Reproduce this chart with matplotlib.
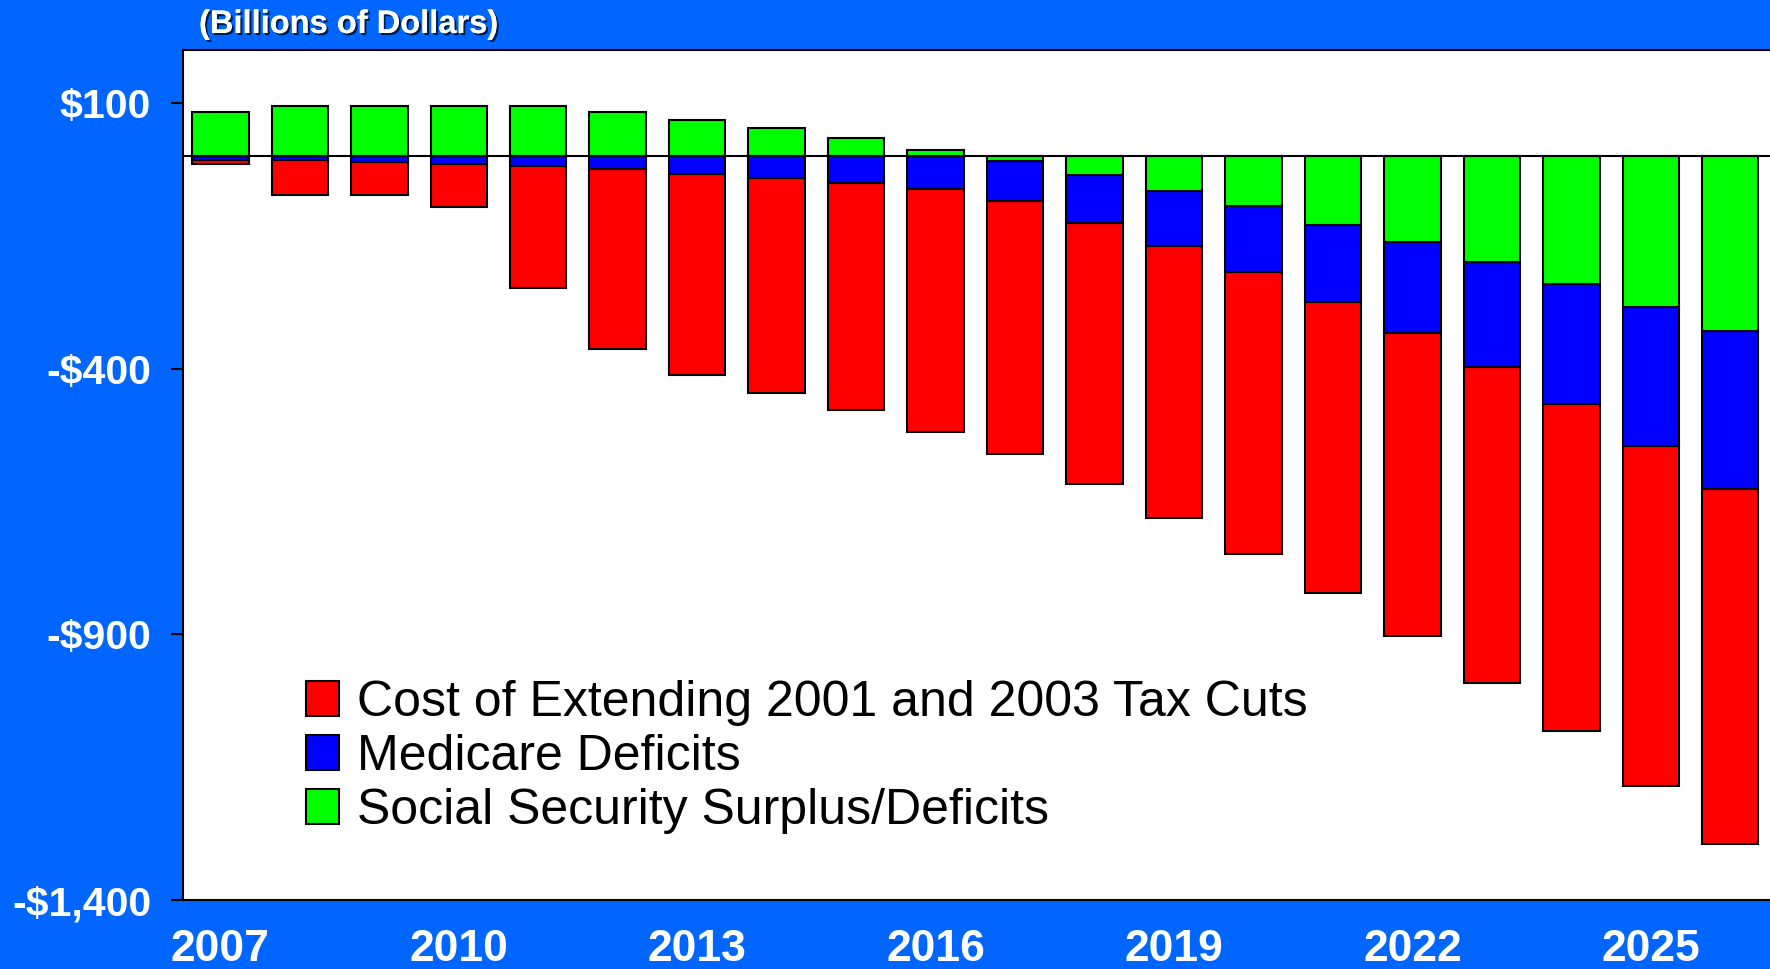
import matplotlib.pyplot as plt
import matplotlib.patheffects as pe
import numpy as np

years = list(range(2007, 2027))
tax_cuts = [-9, -66, -63, -81, -230, -338, -378, -405, -427, -456,
            -475, -492, -512, -530, -549, -570, -594, -615, -641, -667]
medicare = [-7, -7, -11, -15, -19, -25, -34, -41, -51, -63,
            -75, -90, -104, -124, -145, -171, -197, -227, -260, -298]
social_security = [82, 94, 94, 94, 94, 82, 67, 52, 34, 11,
                   -10, -36, -66, -95, -129, -162, -200, -240, -285, -329]

tick_years = [2007, 2010, 2013, 2016, 2019, 2022, 2025]
y_ticks = [100, -400, -900, -1400]
y_tick_labels = ['$100', '-$400', '-$900', '-$1,400']

plt.rcParams['font.family'] = ['Liberation Sans', 'DejaVu Sans']

bg = '#0066FF'
fig = plt.figure(figsize=(17.7, 9.69), dpi=100, facecolor=bg)
ax = fig.add_axes([183 / 1770, 69 / 969, 1 - 183 / 1770, (900 - 49.7) / 969])
ax.set_facecolor('white')

x = np.array(years)
ss = np.array(social_security, dtype=float)
med = np.array(medicare, dtype=float)
tax = np.array(tax_cuts, dtype=float)

# negative parts stack downward from zero: SS (if negative), medicare, tax cuts
neg_base = np.where(ss < 0, ss, 0)
width = 0.71
kw = dict(width=width, edgecolor='black', linewidth=1.5, zorder=3)

ax.bar(x, tax, bottom=neg_base + med, color='#FF0000',
       label='Cost of Extending 2001 and 2003 Tax Cuts', **kw)
ax.bar(x, med, bottom=neg_base, color='#0000FF', label='Medicare Deficits', **kw)
ax.bar(x, ss, bottom=0, color='#00FF00', label='Social Security Surplus/Deficits', **kw)

ax.axhline(0, color='black', linewidth=1.5, zorder=4)

ax.set_xlim(2006.53, 2026.5)
ax.set_ylim(-1400, 200)

ax.set_yticks(y_ticks)
ax.set_yticklabels(y_tick_labels)
ax.set_xticks(tick_years)
ax.set_xticklabels([str(y) for y in tick_years])

ax.tick_params(axis='y', length=9, width=1.5, pad=14, labelsize=29.5,
               labelcolor='white', color='black')
ax.tick_params(axis='x', length=0, pad=21, labelsize=32, labelcolor='white')
for lab in ax.get_yticklabels() + ax.get_xticklabels():
    lab.set_fontweight('bold')

for side in ['left', 'top', 'bottom']:
    ax.spines[side].set_linewidth(1.5)
    ax.spines[side].set_color('black')
ax.spines['right'].set_visible(False)

leg = ax.legend(loc='upper left', bbox_to_anchor=(306 / 1770, 1 - 680 / 969),
                bbox_transform=fig.transFigure, frameon=False, fontsize=36,
                handlelength=0.66, handleheight=0.68, handletextpad=0.36,
                labelspacing=0.16, borderpad=0, borderaxespad=0)

fig.text(199 / 1770, 1 - 24.5 / 969, '(Billions of Dollars)', color='white',
         fontsize=23.5, fontweight='bold', va='center', ha='left',
         path_effects=[pe.withSimplePatchShadow(offset=(1.5, -1.5),
                                                shadow_rgbFace='black', alpha=0.7),
                       pe.Normal()])

fig.savefig('out.png', dpi=100, facecolor=bg)
